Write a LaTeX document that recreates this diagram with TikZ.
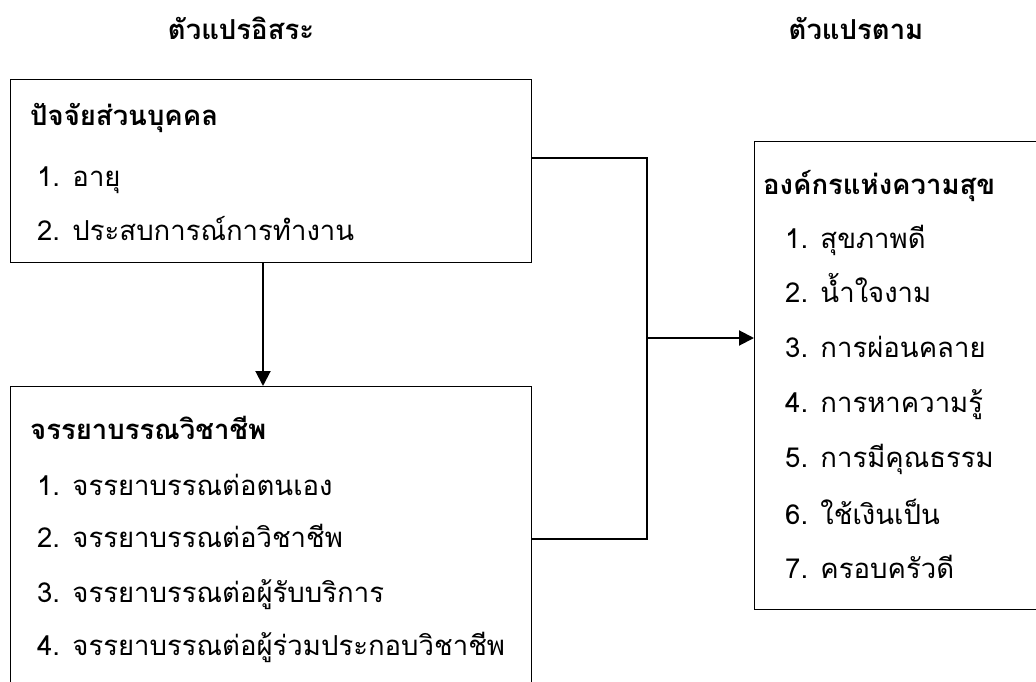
\documentclass[tikz,border=0pt]{standalone}
\usepackage{fontspec}
\newfontfamily\thai[Script=Thai]{Loma}
\usetikzlibrary{arrows.meta}
\begin{document}
\begin{tikzpicture}[x=1pt,y=-1pt,
  box/.style={draw, line width=1.1pt, rectangle, anchor=north west, inner sep=0pt},
  txt/.style={anchor=base west, inner sep=0pt, font=\thai\fontsize{27.5}{32}\selectfont},
  hd/.style={anchor=base west, inner sep=0pt, font=\thai\bfseries\fontsize{27.5}{32}\selectfont},
  ttl/.style={anchor=base, inner sep=0pt, font=\thai\bfseries\fontsize{27.5}{32}\selectfont},
  ln/.style={line width=1.1pt},
  arr/.style={line width=2pt, -{Triangle[length=15pt,width=15pt]}}]
\useasboundingbox (0,0) rectangle (1036,682);
% titles
\node[ttl] (t1) at (241,40) {ตัวแปรอิสระ};
\node[ttl] (t2) at (856,40) {ตัวแปรตาม};
% boxes
\node[box, minimum width=521pt, minimum height=183pt] (p1) at (10,79) {};
\node[box, minimum width=521pt, minimum height=340pt] (p2) at (10,386) {};
\node[box, minimum width=300pt, minimum height=468pt] (o) at (754,141) {};
% top box text
\node[hd] (p1h) at (30,126) {ปัจจัยส่วนบุคคล};
\node[txt] (p1a) at (37,186) {1. อายุ};
\node[txt] (p1b) at (37,240) {2. ประสบการณ์การทำงาน};
% lower box text
\node[hd] (p2h) at (30,439) {จรรยาบรรณวิชาชีพ};
\node[txt] (p2a) at (37,495) {1. จรรยาบรรณต่อตนเอง};
\node[txt] (p2b) at (37,547) {2. จรรยาบรรณต่อวิชาชีพ};
\node[txt] (p2c) at (37,602) {3. จรรยาบรรณต่อผู้รับบริการ};
\node[txt] (p2d) at (37,655) {4. จรรยาบรรณต่อผู้ร่วมประกอบวิชาชีพ};
% right box text
\node[hd] (oh) at (763,194) {องค์กรแห่งความสุข};
\node[txt] (o1) at (785,248) {1. สุขภาพดี};
\node[txt] (o2) at (785,302) {2. น้ำใจงาม};
\node[txt] (o3) at (785,357) {3. การผ่อนคลาย};
\node[txt] (o4) at (785,412) {4. การหาความรู้};
\node[txt] (o5) at (785,467) {5. การมีคุณธรรม};
\node[txt] (o6) at (785,524) {6. ใช้เงินเป็น};
\node[txt] (o7) at (785,578) {7. ครอบครัวดี};
% connectors
\coordinate (ja) at (647,158);
\coordinate (jb) at (647,539);
\coordinate (jm) at (648,338);
\coordinate (va) at (263,0);
\draw[ln] (p1.east |- ja) -- (ja) -- (jb) -- (p2.east |- jb);
\draw[arr] (jm) -- (o.west |- jm);
\draw[arr] (p1.south -| va) -- (p2.north -| va);
\end{tikzpicture}
\end{document}
